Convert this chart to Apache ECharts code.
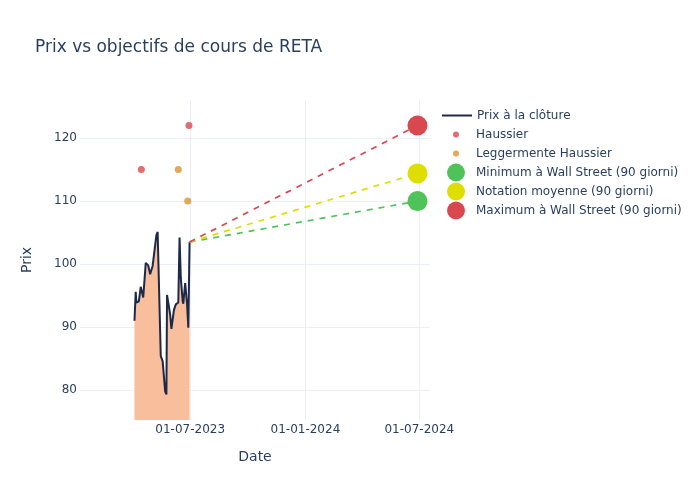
<!DOCTYPE html>
<html><head><meta charset="utf-8">
<script src="https://cdn.jsdelivr.net/npm/echarts@6/dist/echarts.min.js"></script>
<style>html,body{margin:0;padding:0;background:#fff}#c{width:700px;height:500px}</style>
</head><body><div id="c"></div>
<script>
const priceDates = ['2023-04-03','2023-04-05','2023-04-06','2023-04-10','2023-04-13','2023-04-17','2023-04-21','2023-04-25','2023-04-28','2023-05-02','2023-05-08','2023-05-10','2023-05-15','2023-05-18','2023-05-22','2023-05-24','2023-05-25','2023-05-30','2023-06-01','2023-06-05','2023-06-07','2023-06-08','2023-06-12','2023-06-14','2023-06-16','2023-06-19','2023-06-20','2023-06-23','2023-06-26','2023-06-27','2023-06-28','2023-06-30'];
const priceValues = [91.0,95.6,93.9,94.1,96.4,94.7,100.2,99.8,98.4,99.7,104.6,105.1,85.4,84.6,79.8,79.3,95.1,92.0,89.7,92.7,92.4,93.6,93.9,104.2,97.8,94.1,93.7,97.0,93.6,93.9,89.9,103.5];
const haussierDates = ['2023-04-14','2023-06-29'];
const haussierValues = [115,122];
const leggDates = ['2023-06-12','2023-06-27'];
const leggValues = [115,110];
const targetDate = '2024-06-28';
const targetMin = 110, targetAvg = 114.4, targetMax = 122;
const xTicks = ['2023-07-01','2024-01-01','2024-07-01'];
const yTicks = [80,90,100,110,120];

const txt = '#2a3f5f', grid = '#ebf0f8', font = '"DejaVu Sans", verdana, sans-serif';
const lastD = priceDates[priceDates.length-1], lastV = priceValues[priceValues.length-1];
function targetSeries(name, color, v){
  return {name, type:'line', color, symbol:'circle', showSymbol:true,
    lineStyle:{type:[6,6], width:1.7, color}, itemStyle:{color},
    data:[{value:[lastD,lastV], symbol:'none'},{value:[targetDate,v], symbolSize:20}], z:3};
}
const chart = echarts.init(document.getElementById('c'), null, {renderer:'canvas'});
const legBase = {orient:'vertical', padding:0, itemGap:0, itemWidth:30,
  textStyle:{color:txt, fontSize:12, fontFamily:font, lineHeight:19}};
chart.setOption({
  animation:false,
  textStyle:{fontFamily:font},
  title:{text:'Prix vs objectifs de cours de RETA', left:30, top:34,
    textStyle:{color:txt, fontSize:17, fontWeight:'normal', fontFamily:font}},
  legend:[
    Object.assign({}, legBase, {left:442, top:106, itemHeight:2, data:[{name:'Prix à la clôture', icon:'rect'}]}),
    Object.assign({}, legBase, {left:453, top:125, itemHeight:6, data:[{name:'Haussier',icon:'circle'},{name:'Leggermente Haussier',icon:'circle'}]}),
    Object.assign({}, legBase, {left:447, top:163, itemHeight:18, data:[{name:'Minimum à Wall Street (90 giorni)',icon:'circle'},{name:'Notation moyenne (90 giorni)',icon:'circle'},{name:'Maximum à Wall Street (90 giorni)',icon:'circle'}]})
  ],
  grid:{left:80, right:270, top:100, bottom:80, containLabel:false},
  xAxis:{type:'time', min:'2023-01-06', max:'2024-07-18',
    name:'Date', nameLocation:'middle', nameGap:30, nameTextStyle:{color:txt, fontSize:14, fontFamily:font},
    axisLine:{show:false}, axisTick:{show:false, customValues:xTicks},
    axisLabel:{customValues:xTicks, formatter:'{dd}-{MM}-{yyyy}', color:txt, fontSize:12, margin:4, fontFamily:font},
    splitLine:{show:true, lineStyle:{color:grid, width:1}}},
  yAxis:{type:'value', min:75.25, max:126.05,
    name:'Prix', nameLocation:'middle', nameGap:46, nameTextStyle:{color:txt, fontSize:14, fontFamily:font},
    axisLine:{show:false}, axisTick:{show:false, customValues:yTicks},
    axisLabel:{customValues:yTicks, color:txt, fontSize:12, margin:3, fontFamily:font},
    splitLine:{show:true, lineStyle:{color:grid, width:1}}},
  series:[
    {name:'Prix à la clôture', type:'line', color:'#1c2a48', showSymbol:false, symbol:'none',
      lineStyle:{color:'#1c2a48', width:2}, areaStyle:{color:'#f9be9b', opacity:1},
      data:priceDates.map((d,i)=>[d,priceValues[i]]), z:2},
    {name:'Haussier', type:'scatter', color:'#d9484f', symbolSize:7, itemStyle:{color:'#d9484f'},
      data:haussierDates.map((d,i)=>[d,haussierValues[i]]), z:4},
    {name:'Leggermente Haussier', type:'scatter', color:'#e0922c', symbolSize:7, itemStyle:{color:'#e0922c'},
      data:leggDates.map((d,i)=>[d,leggValues[i]]), z:4},
    targetSeries('Minimum à Wall Street (90 giorni)', '#4fc35a', targetMin),
    targetSeries('Notation moyenne (90 giorni)', '#dede00', targetAvg),
    targetSeries('Maximum à Wall Street (90 giorni)', '#d9484f', targetMax)
  ]
});
</script></body></html>
